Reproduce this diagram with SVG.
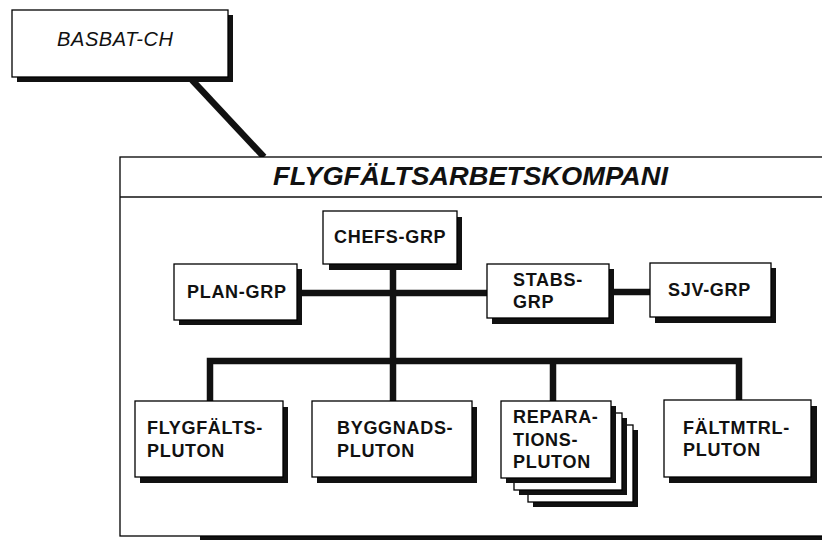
<svg xmlns="http://www.w3.org/2000/svg" width="822" height="540" viewBox="0 0 822 540">
<style>
.bx{fill:#fff;stroke:#000;stroke-width:1.3}
.sh{fill:#111}
.t{font-family:"Liberation Sans",Arial,sans-serif;font-weight:bold;font-size:18px;letter-spacing:0.7px;fill:#111}
.it{font-family:"Liberation Sans",Arial,sans-serif;font-style:italic;fill:#111}
.ln{fill:none;stroke:#111;stroke-width:6.5;stroke-linejoin:miter}
</style>
<rect width="822" height="540" fill="#fff"/>
<g id="connectors">
<line class="ln" x1="192" y1="80" x2="264" y2="157"/>
</g>
<g id="frame">
<rect x="200" y="163" width="636" height="377" class="sh"/>
<rect x="120" y="157" width="710" height="379" class="bx" stroke-width="1.6"/>
<line x1="120" y1="197" x2="830" y2="197" stroke="#111" stroke-width="1.6"/>
<text x="273" y="185" class="it" font-weight="bold" font-size="25" textLength="395" lengthAdjust="spacingAndGlyphs">FLYGFÄLTSARBETSKOMPANI</text>
</g>
<g id="basbat">
<rect x="17" y="15" width="216" height="67" class="sh"/>
<rect x="12" y="10" width="216" height="67" class="bx"/>
<text x="57" y="46" class="it" font-size="20" letter-spacing="0.6">BASBAT-CH</text>
</g>
<g id="connectors-inner">
<path class="ln" d="M297,293 H487 M609,292 H650 M393,264 V401 M210,401 V361 H739 V401 M553,361 V401"/>
</g>
<g id="chefs">
<rect x="329" y="217" width="133" height="53" class="sh"/>
<rect x="323" y="211" width="134" height="53" class="bx"/>
<text x="334" y="243" class="t">CHEFS-GRP</text>
</g>
<g id="plan">
<rect x="179" y="269" width="123" height="56" class="sh"/>
<rect x="174" y="264" width="123" height="56" class="bx"/>
<text x="187" y="298" class="t">PLAN-GRP</text>
</g>
<g id="stabs">
<rect x="492" y="269" width="122" height="55" class="sh"/>
<rect x="487" y="264" width="122" height="54" class="bx"/>
<text x="513" y="286" class="t">STABS-</text>
<text x="513" y="308" class="t">GRP</text>
</g>
<g id="sjv">
<rect x="655" y="268" width="121" height="55" class="sh"/>
<rect x="650" y="263" width="121" height="54" class="bx"/>
<text x="668" y="296" class="t">SJV-GRP</text>
</g>
<g id="flygfalts">
<rect x="140" y="407" width="148" height="76" class="sh"/>
<rect x="135" y="401" width="148" height="76" class="bx"/>
<text x="147" y="434" class="t">FLYGFÄLTS-</text>
<text x="147" y="457" class="t">PLUTON</text>
</g>
<g id="byggnads">
<rect x="317" y="407" width="160" height="76" class="sh"/>
<rect x="312" y="401" width="160" height="76" class="bx"/>
<text x="337" y="434" class="t">BYGGNADS-</text>
<text x="337" y="457" class="t">PLUTON</text>
</g>
<g id="reparations">
<rect x="533" y="430" width="105" height="77" class="sh"/>
<rect x="528" y="425" width="105" height="77" class="bx"/>
<rect x="519" y="418" width="108" height="77" class="sh"/>
<rect x="514" y="413" width="108" height="77" class="bx"/>
<rect x="506" y="406" width="110" height="77" class="sh"/>
<rect x="501" y="401" width="110" height="77" class="bx"/>
<text x="513" y="423" class="t">REPARA-</text>
<text x="513" y="446" class="t">TIONS-</text>
<text x="513" y="468" class="t">PLUTON</text>
</g>
<g id="faltmtrl">
<rect x="669" y="406" width="148" height="77" class="sh"/>
<rect x="664" y="400" width="147" height="77" class="bx"/>
<text x="683" y="434" class="t">FÄLTMTRL-</text>
<text x="683" y="456" class="t">PLUTON</text>
</g>
</svg>
